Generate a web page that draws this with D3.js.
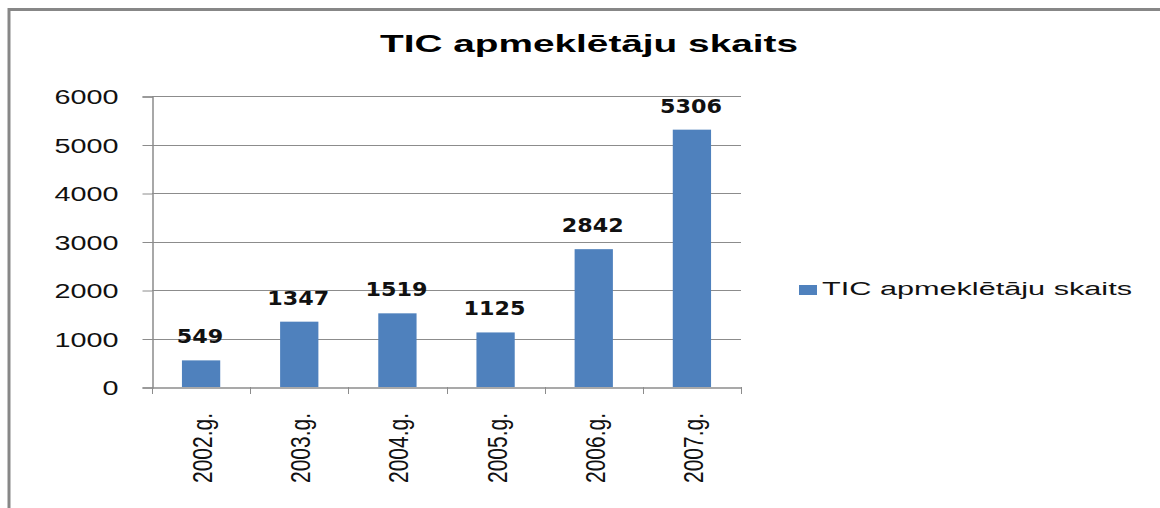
<!DOCTYPE html>
<html>
<head>
<meta charset="utf-8">
<script src="https://cdn.jsdelivr.net/npm/d3@7"></script>
<style>
  html, body { margin: 0; padding: 0; background: #fff; }
  svg { display: block; }
</style>
</head>
<body>
<div id="chart"></div>
<script>
// Data
const years = ["2002.g.", "2003.g.", "2004.g.", "2005.g.", "2006.g.", "2007.g."];
const visitors = [549, 1347, 1519, 1125, 2842, 5306];
const yTicks = [0, 1000, 2000, 3000, 4000, 5000, 6000];
const seriesName = "TIC apmeklētāju skaits";
const chartTitle = "TIC apmeklētāju skaits";

const W = 1160, H = 508;
const plot = { left: 152, right: 741, top: 96, bottom: 387 };

const svg = d3.select("#chart").append("svg")
  .attr("width", W)
  .attr("height", H);

// outer frame (only top and left edges are visible in the crop)
svg.append("line")
  .attr("x1", 8).attr("x2", W).attr("y1", 9.5).attr("y2", 9.5)
  .attr("stroke", "#878787").attr("stroke-width", 3);
svg.append("line")
  .attr("x1", 9).attr("x2", 9).attr("y1", 8).attr("y2", H)
  .attr("stroke", "#878787").attr("stroke-width", 3);

// scales
const x = d3.scaleBand()
  .domain(years)
  .range([plot.left, plot.right])
  .padding(0);

const y = d3.scaleLinear()
  .domain([0, 6000])
  .range([plot.bottom, plot.top]);

const barW = x.bandwidth() * 0.39;

// title
svg.append("text")
  .attr("x", 589)
  .attr("y", 52)
  .attr("text-anchor", "middle")
  .attr("textLength", 418)
  .attr("lengthAdjust", "spacingAndGlyphs")
  .style("font-family", "Liberation Sans, Arial, sans-serif")
  .style("font-weight", "bold")
  .style("font-size", "24px")
  .text(chartTitle);

// gridlines
svg.append("g")
  .selectAll("line")
  .data(yTicks.filter(d => d > 0))
  .join("line")
  .attr("x1", plot.left)
  .attr("x2", plot.right)
  .attr("y1", d => Math.round(y(d)) + 0.5)
  .attr("y2", d => Math.round(y(d)) + 0.5)
  .attr("stroke", "#8c8c8c")
  .attr("stroke-width", 1);

// y axis
const yAxis = d3.axisLeft(y)
  .tickValues(yTicks)
  .tickSize(10)
  .tickPadding(24)
  .tickFormat(d3.format("d"));

const gy = svg.append("g")
  .attr("transform", `translate(${plot.left + 0.5},0.5)`)
  .call(yAxis);
gy.select(".domain").attr("stroke", "#8c8c8c").attr("stroke-width", 1.5);
gy.selectAll(".tick line").attr("stroke", "#8c8c8c");
gy.selectAll(".tick text")
  .attr("fill", "#111")
  .attr("dy", "0.36em")
  .attr("textLength", d => String(d).length * 16)
  .attr("lengthAdjust", "spacingAndGlyphs")
  .style("font-family", "Liberation Sans, Arial, sans-serif")
  .style("font-size", "20px");

// x axis
const xAxis = d3.axisBottom(x).tickSize(0).tickFormat("");
const gx = svg.append("g")
  .attr("transform", `translate(0,${plot.bottom + 0.5})`)
  .call(xAxis);
gx.select(".domain").attr("stroke", "#8c8c8c").attr("stroke-width", 1.5);

// category boundary ticks
const bounds = years.map(d => x(d)).concat([x(years[years.length - 1]) + x.bandwidth()]);
svg.append("g")
  .selectAll("line")
  .data(bounds)
  .join("line")
  .attr("x1", d => Math.round(d) + 0.5)
  .attr("x2", d => Math.round(d) + 0.5)
  .attr("y1", plot.bottom)
  .attr("y2", plot.bottom + 7)
  .attr("stroke", "#8c8c8c");

// rotated category labels (glyphs stretched like the source image)
svg.append("g")
  .selectAll("text")
  .data(years)
  .join("text")
  .attr("transform", d => `translate(${x(d) + x.bandwidth() / 2 + 11},${plot.bottom + 26}) rotate(-90) scale(1,1.4)`)
  .attr("text-anchor", "end")
  .attr("textLength", 70)
  .attr("lengthAdjust", "spacingAndGlyphs")
  .attr("fill", "#111")
  .style("font-family", "Liberation Sans, Arial, sans-serif")
  .style("font-size", "20px")
  .text(d => d);

// bars
svg.append("g")
  .selectAll("rect")
  .data(visitors)
  .join("rect")
  .attr("x", (d, i) => x(years[i]) + x.bandwidth() / 2 - barW / 2)
  .attr("y", d => y(d))
  .attr("width", barW)
  .attr("height", d => y(0) - y(d))
  .attr("fill", "#4f81bd");

// data labels
svg.append("g")
  .selectAll("text")
  .data(visitors)
  .join("text")
  .attr("x", (d, i) => x(years[i]) + x.bandwidth() / 2 - 1)
  .attr("y", d => y(d) - 17)
  .attr("text-anchor", "middle")
  .attr("textLength", d => String(d).length * 15.5)
  .attr("lengthAdjust", "spacingAndGlyphs")
  .attr("fill", "#111")
  .style("font-family", "DejaVu Sans, Verdana, sans-serif")
  .style("font-weight", "bold")
  .style("font-size", "19px")
  .text(d => d);

// legend
const legend = svg.append("g").attr("transform", "translate(799,285)");
legend.append("rect")
  .attr("x", 0).attr("y", 0)
  .attr("width", 18).attr("height", 10)
  .attr("fill", "#4f81bd");
legend.append("text")
  .attr("x", 23)
  .attr("y", 10)
  .attr("textLength", 310)
  .attr("lengthAdjust", "spacingAndGlyphs")
  .attr("fill", "#111")
  .style("font-family", "Liberation Sans, Arial, sans-serif")
  .style("font-size", "18px")
  .text(seriesName);
</script>
</body>
</html>
